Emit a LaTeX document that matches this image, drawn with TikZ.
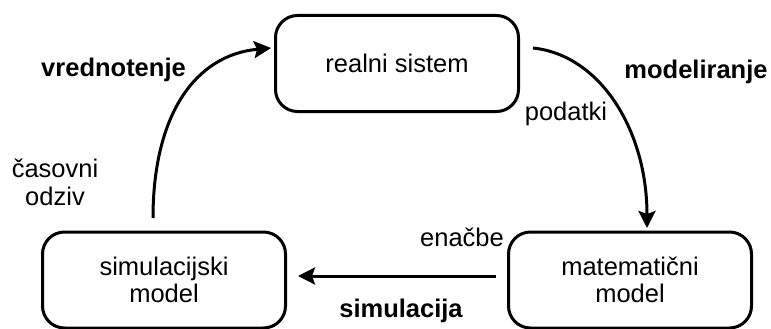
\documentclass[tikz,border=0pt]{standalone}
\usepackage{fontspec}
\setmainfont{Liberation Sans}
\usetikzlibrary{arrows.meta}
\begin{document}
\begin{tikzpicture}[x=1pt, y=-1pt,
  txt/.style={font=\fontsize{25.5}{27.5}\selectfont, inner sep=0pt},
  lbl/.style={txt, anchor=base},
  boldlbl/.style={lbl, font=\fontsize{25.5}{27.5}\selectfont\bfseries},
  block/.style={txt, draw, line width=3pt, rounded corners=22pt,
    minimum width=243pt, minimum height=96pt, align=center},
  flow/.style={line width=3pt, -{Stealth[length=17pt, width=17pt, inset=3pt]}}]
  \useasboundingbox (0,0) rectangle (771,329);

  % the three stages of the cycle
  \node[block] (real) at (397,63.5) {realni sistem};
  \node[block] (sim)  at (164,280) {simulacijski\\model};
  \node[block] (math) at (630,280) {matematični\\model};

  % free ends of the curved connectors
  \coordinate (mStart) at (533,48);
  \coordinate (mEnd)   at (647,228);
  \coordinate (vStart) at (153,218);
  \coordinate (vEnd)   at (271,48);

  % modeliranje: real system -> mathematical model
  \draw[flow] (mStart) .. controls (600,55) and (647,130) .. (mEnd);
  % simulacija: mathematical model -> simulation model
  \draw[flow, shorten <=11pt, shorten >=11pt]
    ([yshift=4pt]math.west) -- ([yshift=4pt]sim.east);
  % vrednotenje: simulation model -> real system
  \draw[flow] (vStart) .. controls (153,115) and (195,55) .. (vEnd);

  % labels
  \node[boldlbl] (lModel) at (696,78) {modeliranje};
  \node[lbl] (lData) at (566,120) {podatki};
  \node[lbl] (lEq) at (462,246) {enačbe};
  \node[boldlbl] (lSim) at (401,317) {simulacija};
  \node[boldlbl] (lVal) at (113.5,77) {vrednotenje};
  \node[lbl] (lTime) at (55,177) {časovni};
  \node[lbl] (lResp) at (55,205) {odziv};
\end{tikzpicture}
\end{document}
